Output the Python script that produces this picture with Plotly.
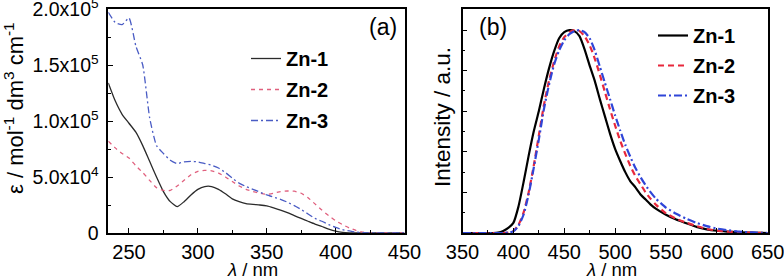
import plotly.graph_objects as go

# ---------------- data: panel (a) absorption ----------------
wl_abs = [235, 240, 245, 250, 255, 260, 265, 270, 275, 280, 285, 290, 295, 300, 305,
          310, 315, 320, 325, 330, 335, 340, 345, 350, 355, 360, 365, 370, 375, 380,
          385, 390, 395, 400, 405, 410, 415, 420, 425, 430, 440, 450]
abs_zn1 = [134000, 118000, 106000, 98000, 90000, 78000, 64000, 50000, 37000, 28000, 23500,
           28000, 34000, 39000, 41500, 41500, 39000, 35000, 30500, 28000, 26200, 25500,
           25000, 24200, 22500, 20500, 18200, 15500, 13000, 10500, 8000, 5800, 3500, 1700,
           600, 100, 0, 0, 0, 0, 0, 0]
abs_zn2 = [82000, 76000, 71000, 67000, 60000, 54000, 47000, 40500, 38000, 38000, 42000,
           47000, 52000, 55000, 56000, 55500, 53500, 50000, 46000, 42000, 39000, 37000,
           35500, 34500, 35500, 37000, 37500, 37300, 35500, 31500, 26000, 20500, 15500,
           11000, 7500, 4500, 2200, 700, 0, 0, 0, 0]
abs_zn3 = [197000, 188000, 186000, 192000, 167000, 150000, 103000, 78000, 71000, 65000,
           62000, 63500, 64000, 63500, 62000, 60500, 58000, 54000, 49000, 44500, 41500,
           39000, 36500, 34000, 32000, 30000, 27500, 24500, 21000, 17000, 13000, 10500,
           7500, 5000, 3000, 1800, 800, 300, 0, 0, 0, 0]

# ---------------- data: panel (b) emission ----------------
wl_em = [350, 360, 370, 380, 385, 390, 395, 400, 405, 410, 415, 420, 425, 430, 435, 440,
         445, 450, 455, 460, 465, 470, 475, 480, 485, 490, 495, 500, 505, 510, 515, 520,
         525, 530, 535, 540, 550, 560, 570, 580, 590, 600, 610, 620, 630, 640, 650]
em_zn1 = [0, 0, 0, 0, 0.002, 0.01, 0.025, 0.05, 0.13, 0.25, 0.38, 0.50, 0.60, 0.71, 0.81,
          0.895, 0.96, 0.99, 1.0, 0.995, 0.97, 0.905, 0.825, 0.75, 0.66, 0.575, 0.49, 0.415,
          0.355, 0.30, 0.255, 0.225, 0.19, 0.165, 0.14, 0.12, 0.09, 0.066, 0.048, 0.03,
          0.018, 0.011, 0.007, 0.004, 0.002, 0.001, 0]
em_zn2 = [0, 0, 0, 0, 0, 0, 0.002, 0.01, 0.04, 0.10, 0.20, 0.33, 0.48, 0.63, 0.75, 0.845,
          0.92, 0.965, 0.99, 1.0, 0.995, 0.97, 0.925, 0.86, 0.78, 0.695, 0.61, 0.53, 0.455,
          0.39, 0.33, 0.28, 0.24, 0.20, 0.168, 0.14, 0.097, 0.07, 0.051, 0.034, 0.02, 0.012,
          0.007, 0.004, 0.002, 0.001, 0]
em_zn3 = [0, 0, 0, 0, 0, 0, 0.002, 0.008, 0.035, 0.09, 0.19, 0.32, 0.46, 0.61, 0.73, 0.83,
          0.90, 0.95, 0.98, 0.995, 1.0, 0.99, 0.96, 0.90, 0.82, 0.74, 0.66, 0.58, 0.505,
          0.435, 0.375, 0.32, 0.275, 0.235, 0.20, 0.17, 0.125, 0.095, 0.07, 0.05, 0.034,
          0.022, 0.014, 0.008, 0.004, 0.002, 0]

series_names = ["Zn-1", "Zn-2", "Zn-3"]
abs_ticks = [0, 50000, 100000, 150000, 200000]
abs_ticktext = ["0", "5.0x10<sup>4</sup>", "1.0x10<sup>5</sup>", "1.5x10<sup>5</sup>", "2.0x10<sup>5</sup>"]
abs_xticks = [250, 300, 350, 400, 450]
em_xticks = [350, 400, 450, 500, 550, 600, 650]
em_yticks = [0, 0.2, 0.4, 0.6, 0.8, 1.0]

FONT = "Liberation Sans, Arial, sans-serif"
W, H = 784, 280

fig = go.Figure()

styles_a = [dict(color="#2b2b2b", width=1.3, dash="solid"),
            dict(color="#e0607e", width=1.3, dash="4px,4px"),
            dict(color="#4a5cc4", width=1.3, dash="7px,3px,2px,3px")]
styles_b = [dict(color="#000000", width=2.2, dash="solid"),
            dict(color="#e8283c", width=2.2, dash="6px,4px"),
            dict(color="#2f45d8", width=2.2, dash="8px,3px,2px,3px")]

for name, ys, st in zip(series_names, [abs_zn1, abs_zn2, abs_zn3], styles_a):
    fig.add_trace(go.Scatter(x=wl_abs, y=ys, mode="lines", name=name, line=st,
                             line_shape="spline", line_smoothing=0.5,
                             xaxis="x", yaxis="y", legend="legend",
                             legendgroup=name + "a"))
for name, ys, st in zip(series_names, [em_zn1, em_zn2, em_zn3], styles_b):
    fig.add_trace(go.Scatter(x=wl_em, y=ys, mode="lines", name=name, line=st,
                             line_shape="spline", line_smoothing=0.5,
                             xaxis="x2", yaxis="y2", legend="legend2",
                             legendgroup=name + "b"))

def px_x(p):
    return p / W

def px_y(p):
    return (H - p) / H

axis_common = dict(showline=True, linecolor="black", linewidth=1.5, mirror=True,
                   ticks="inside", ticklen=5, tickwidth=1.2, tickcolor="black",
                   showgrid=False, zeroline=False, automargin=False,
                   ticklabeloverflow="allow")
xfont = dict(family=FONT, size=20, color="black")
yfont = dict(family=FONT, size=19.5, color="black")

fig.update_layout(
    width=W, height=H,
    margin=dict(l=0, r=0, t=0, b=0, autoexpand=False),
    paper_bgcolor="white", plot_bgcolor="white",
    font=dict(family=FONT, color="black"),
    xaxis=dict(domain=[px_x(108.3), px_x(404.5)], range=[235, 450],
               tickvals=abs_xticks, anchor="y", tickfont=xfont,
               minor=dict(ticks="inside", ticklen=3, tickcolor="black", dtick=25, tick0=0),
               **axis_common),
    yaxis=dict(domain=[px_y(233), px_y(9)], range=[0, 200000],
               tickvals=abs_ticks, ticktext=abs_ticktext, anchor="x", tickfont=yfont,
               ticklabelstandoff=4,
               minor=dict(ticks="inside", ticklen=3, tickcolor="black", dtick=25000, tick0=0),
               **axis_common),
    xaxis2=dict(domain=[px_x(462.5), px_x(767.7)], range=[350, 650],
                tickvals=em_xticks, anchor="y2", tickfont=xfont,
                minor=dict(ticks="inside", ticklen=3, tickcolor="black", dtick=25, tick0=0),
                **axis_common),
    yaxis2=dict(domain=[px_y(233), px_y(9)], range=[0, 1.104],
                tickvals=em_yticks, showticklabels=False, anchor="x2",
                minor=dict(ticks="inside", ticklen=3, tickcolor="black", dtick=0.1, tick0=0),
                **axis_common),
    legend=dict(x=px_x(246), y=px_y(39), xanchor="left", yanchor="top",
                bgcolor="rgba(0,0,0,0)", traceorder="grouped", tracegroupgap=2,
                font=dict(family=FONT, size=20, color="black", weight="bold")),
    legend2=dict(x=px_x(653), y=px_y(16), xanchor="left", yanchor="top",
                 bgcolor="rgba(0,0,0,0)", traceorder="grouped", tracegroupgap=1,
                 font=dict(family=FONT, size=20, color="black", weight="bold")),
    showlegend=True,
)

annos = [
    dict(text="(a)", x=px_x(383), y=px_y(27), font=dict(size=23)),
    dict(text="(b)", x=px_x(493), y=px_y(27), font=dict(size=23)),
    dict(text="<i>λ</i> / nm", x=px_x(252), y=px_y(269.5), font=dict(size=18.5)),
    dict(text="<i>λ</i> / nm", x=px_x(611), y=px_y(269.5), font=dict(size=18.5)),
    dict(text="ε / mol<sup>-1</sup> dm<sup>3</sup> cm<sup>-1</sup>", x=px_x(14), y=px_y(108),
         textangle=-90, font=dict(size=22)),
    dict(text="Intensity / a.u.", x=px_x(443), y=px_y(117), textangle=-90, font=dict(size=22.5)),
]
for a in annos:
    a.update(xref="paper", yref="paper", xanchor="center", yanchor="middle", showarrow=False)
    a["font"].update(family=FONT, color="black")
    fig.add_annotation(**a)

fig.write_html("out.html", config={"displayModeBar": False},
               post_script="document.body.style.margin='0';document.body.style.overflow='hidden';")
